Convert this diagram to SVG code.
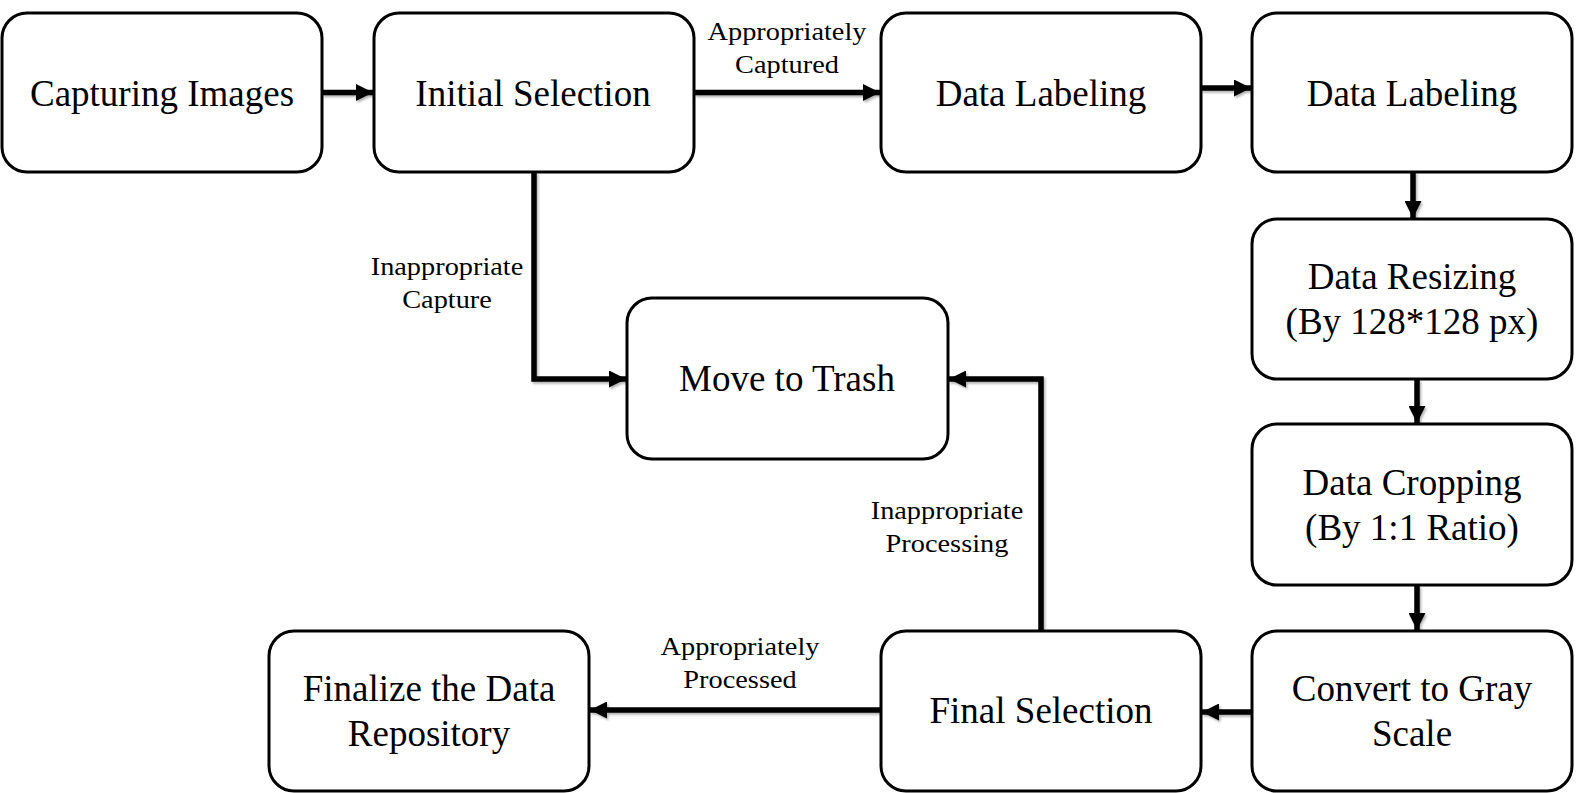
<svg xmlns="http://www.w3.org/2000/svg" width="1576" height="793" viewBox="0 0 1576 793">
<style>
.box{fill:#fff;stroke:#000;stroke-width:3}
.nt{font-family:"Liberation Serif","Times New Roman",serif;font-size:37px;fill:#000;text-anchor:middle}
.lt{font-family:"Liberation Serif","Times New Roman",serif;font-size:26px;fill:#000;text-anchor:middle}
.cn{fill:none;stroke:#000;stroke-width:5.5;marker-end:url(#ah)}
</style>
<defs>
<marker id="ah" viewBox="0 0 10 10" refX="10" refY="5" markerWidth="17" markerHeight="17" markerUnits="userSpaceOnUse" orient="auto">
<path d="M0,0 L10,5 L0,10 Z" fill="#000"/>
</marker>
<filter id="sh" x="-10%" y="-10%" width="120%" height="120%">
<feDropShadow dx="1.5" dy="2" stdDeviation="1.2" flood-color="#000" flood-opacity="0.3"/>
</filter>
</defs>
<rect width="1576" height="793" fill="#fff"/>
<g id="connectors" filter="url(#sh)">
<path class="cn" d="M322,92.5 L373,92.5"/>
<path class="cn" d="M694,92.5 L880,92.5"/>
<path class="cn" d="M1201,88 L1251,88"/>
<path class="cn" d="M1413,172 L1413,218"/>
<path class="cn" d="M1417,379 L1417,423"/>
<path class="cn" d="M1417,585 L1417,630"/>
<path class="cn" d="M1252,712 L1202,712"/>
<path class="cn" d="M881,710 L590,710"/>
<path class="cn" d="M534,172 L534,379 L626,379"/>
<path class="cn" d="M1041,631 L1041,379 L949,379"/>
</g>
<g id="n1"><rect class="box" x="2" y="13" width="320" height="159" rx="25"/><text class="nt" x="162" y="106">Capturing Images</text></g>
<g id="n2"><rect class="box" x="374" y="13" width="320" height="159" rx="25"/><text class="nt" x="533" y="106">Initial Selection</text></g>
<g id="n3"><rect class="box" x="881" y="13" width="320" height="159" rx="25"/><text class="nt" x="1041" y="106">Data Labeling</text></g>
<g id="n4"><rect class="box" x="1252" y="13" width="320" height="159" rx="25"/><text class="nt" x="1412" y="106">Data Labeling</text></g>
<g id="n5"><rect class="box" x="1252" y="219" width="320" height="160" rx="25"/><text class="nt" x="1412" y="289">Data Resizing</text><text class="nt" x="1412" y="334">(By 128*128 px)</text></g>
<g id="n6"><rect class="box" x="1252" y="424" width="320" height="161" rx="25"/><text class="nt" x="1412" y="495">Data Cropping</text><text class="nt" x="1412" y="540">(By 1:1 Ratio)</text></g>
<g id="n7"><rect class="box" x="1252" y="631" width="320" height="160" rx="25"/><text class="nt" x="1412" y="701">Convert to Gray</text><text class="nt" x="1412" y="746">Scale</text></g>
<g id="n8"><rect class="box" x="881" y="631" width="320" height="160" rx="25"/><text class="nt" x="1041" y="723">Final Selection</text></g>
<g id="n9"><rect class="box" x="269" y="631" width="320" height="160" rx="25"/><text class="nt" x="429" y="701">Finalize the Data</text><text class="nt" x="429" y="746">Repository</text></g>
<g id="n10"><rect class="box" x="627" y="298" width="321" height="161" rx="25"/><text class="nt" x="787" y="391">Move to Trash</text></g>
<g id="labels">
<g transform="translate(787,0) scale(1.09,1)"><text class="lt" x="0" y="40">Appropriately</text><text class="lt" x="0" y="73">Captured</text></g>
<g transform="translate(447,0) scale(1.09,1)"><text class="lt" x="0" y="275">Inappropriate</text><text class="lt" x="0" y="308">Capture</text></g>
<g transform="translate(947,0) scale(1.09,1)"><text class="lt" x="0" y="519">Inappropriate</text><text class="lt" x="0" y="552">Processing</text></g>
<g transform="translate(740,0) scale(1.09,1)"><text class="lt" x="0" y="655">Appropriately</text><text class="lt" x="0" y="688">Processed</text></g>
</g>
</svg>
